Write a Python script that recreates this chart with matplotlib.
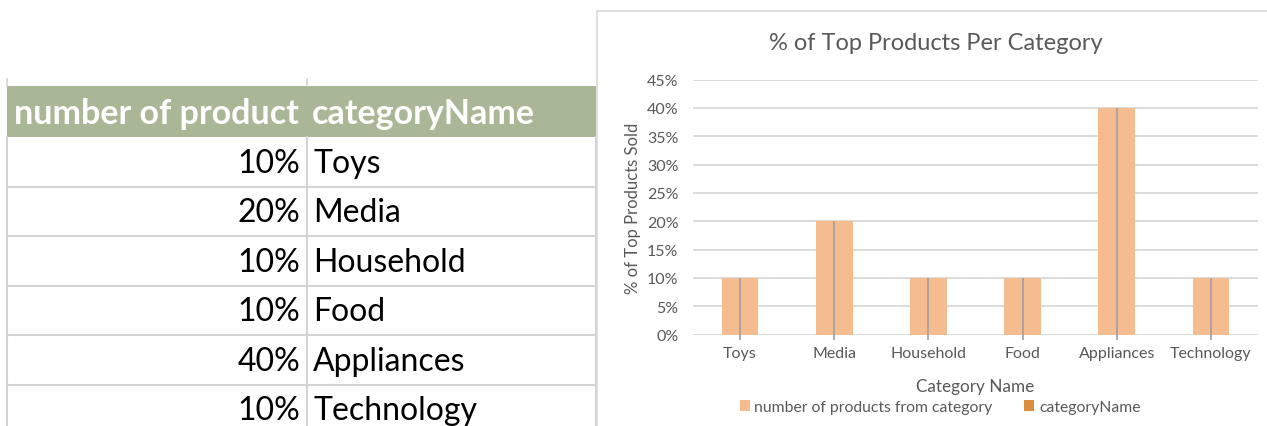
import matplotlib
matplotlib.use("Agg")
import matplotlib.pyplot as plt
from matplotlib.patches import Rectangle, Patch
from matplotlib.ticker import FuncFormatter

plt.rcParams['font.family'] = ['Lato', 'DejaVu Sans']

# ---- data ----
categories = ['Toys', 'Media', 'Household', 'Food', 'Appliances', 'Technology']
values = [10, 20, 10, 10, 40, 10]          # percent of top products
table_headers = ['number of product', 'categoryName']
series_names = ['number of products from category', 'categoryName']
y_ticks = [0, 5, 10, 15, 20, 25, 30, 35, 40, 45]

W, H = 1267, 427
fig = plt.figure(figsize=(W / 100, H / 100), dpi=100)

# ---- background canvas in pixel coords (table + chart frame) ----
bg = fig.add_axes([0, 0, 1, 1])
bg.set_xlim(0, W)
bg.set_ylim(H, 0)
bg.axis('off')

grid_c = '#d4d4d4'
col_x = [7, 307, 596]
header_top, header_bot = 87, 138
row_h = 49.5
# header band
bg.add_patch(Rectangle((col_x[0], header_top), col_x[2] - col_x[0], header_bot - header_top,
                       facecolor='#a9b796', edgecolor='none'))
# stubs above header
for x in col_x[:2]:
    bg.plot([x, x], [80, header_top], color=grid_c, lw=1.2)
# vertical column lines
for x in col_x:
    bg.plot([x, x], [header_bot, H], color=grid_c, lw=1.5)
# header texts
bg.text(14, 114, table_headers[0], color='white', fontsize=24.5, fontweight='bold',
        ha='left', va='center')
bg.text(312, 114, table_headers[1], color='white', fontsize=24.5, fontweight='bold',
        ha='left', va='center')
# rows
for i, (c, v) in enumerate(zip(categories, values)):
    yt = header_bot + i * row_h
    bg.plot([col_x[0], col_x[2]], [yt + row_h, yt + row_h], color=grid_c, lw=1.5)
    yc = yt + row_h / 2 + 1
    bg.text(300, yc, f'{v}%', fontsize=23, color='black', ha='right', va='center')
    bg.text(313, yc, c, fontsize=23, color='black', ha='left', va='center')

# chart frame
bg.plot([597, W], [12, 12], color='#d9d9d9', lw=1.2)
bg.plot([597, 597], [12, H], color='#d9d9d9', lw=1.2)

# ---- chart ----
ax_l, ax_r = 693, 1258
ax_top, ax_bot = 80.5, 335.5
ax = fig.add_axes([ax_l / W, 1 - ax_bot / H, (ax_r - ax_l) / W, (ax_bot - ax_top) / H])
bar_c = '#f5bd8f'
x = range(len(categories))
ax.bar(x, values, width=0.39, color=bar_c, zorder=2)
ax.vlines(list(x), -1.0, values, color='#a0a0a0', lw=1.2, zorder=3, clip_on=False)
ax.set_xlim(-0.5, len(categories) - 0.5)
ax.set_ylim(0, 45)
ax.set_yticks(y_ticks)
ax.yaxis.set_major_formatter(FuncFormatter(lambda v, p: f'{int(v)}%'))
ax.set_xticks(list(x))
ax.set_xticklabels(categories)
ax.grid(axis='y', color='#d9d9d9', lw=1.3, zorder=0)
ax.set_axisbelow(True)
for s in ax.spines.values():
    s.set_visible(False)
ax.tick_params(length=0, labelsize=11.5, colors='#595959')
ax.tick_params(axis='y', pad=10.5)
ax.tick_params(axis='x', pad=8)
ax.set_ylabel('% of Top Products Sold', fontsize=12, color='#595959', labelpad=4)
ax.set_xlabel('Category Name', fontsize=12.3, color='#595959', labelpad=13)

fig.text(936 / W, 1 - 43 / H, '% of Top Products Per Category', fontsize=17,
         color='#595959', ha='center', va='center')

handles = [Patch(facecolor=bar_c, edgecolor='none'),
           Patch(facecolor='#da8f3c', edgecolor='none')]
fig.legend(handles, series_names, loc='center', bbox_to_anchor=(940 / W, 1 - 408 / H),
           ncol=2, frameon=False, fontsize=11.3, labelcolor='#595959',
           handlelength=0.65, handleheight=0.65, handletextpad=0.3, columnspacing=2.0)

fig.savefig('out.png', dpi=100)
